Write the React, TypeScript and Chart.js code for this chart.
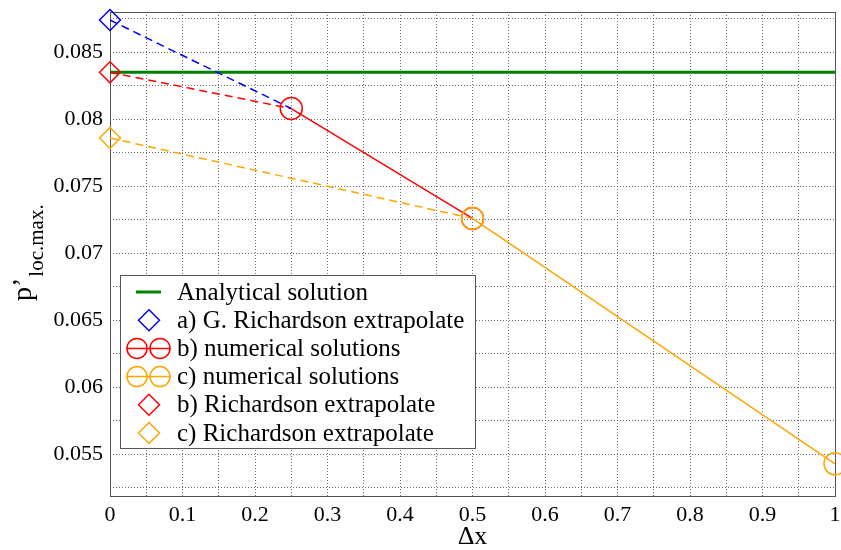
import React, { useEffect, useRef } from "react";
import { Chart, registerables } from "chart.js";

Chart.register(...registerables);

// ---- data ----
const xTickLabels = ["0", "0.1", "0.2", "0.3", "0.4", "0.5", "0.6", "0.7", "0.8", "0.9", "1"];
const yTickLabels = ["0.055", "0.06", "0.065", "0.07", "0.075", "0.08", "0.085"];

const analyticalDx = [0, 1];
const analyticalP = [0.0835, 0.0835];

const richADx = [0, 0.25];
const richAP = [0.0874, 0.0808];

const numBDx = [0.25, 0.5];
const numBP = [0.0808, 0.0726];

const numCDx = [0.5, 1];
const numCP = [0.0726, 0.0543];

const richBDx = [0, 0.25];
const richBP = [0.0835, 0.0808];

const richCDx = [0, 0.5];
const richCP = [0.0786, 0.0726];

const seriesLabels = [
  "Analytical solution",
  "a) G. Richardson extrapolate",
  "b) numerical solutions",
  "c) numerical solutions",
  "b) Richardson extrapolate",
  "c) Richardson extrapolate",
];

const xTitle = "\u0394x";
const yTitleMain = "p\u2019";
const yTitleSub = "loc.max.";

const SERIF = '"Liberation Serif", "DejaVu Serif", serif';
const GREEN = "#008000";
const BLUE = "#0000ff";
const RED = "#ff0000";
const ORANGE = "#ffa500";

const pts = (xs: number[], ys: number[]) => xs.map((x, i) => ({ x, y: ys[i] }));

function drawDiamond(ctx: CanvasRenderingContext2D, x: number, y: number, r: number, color: string) {
  ctx.beginPath();
  ctx.moveTo(x - r, y);
  ctx.lineTo(x, y - r);
  ctx.lineTo(x + r, y);
  ctx.lineTo(x, y + r);
  ctx.closePath();
  ctx.strokeStyle = color;
  ctx.lineWidth = 1.5;
  ctx.stroke();
}

function drawCircles(ctx: CanvasRenderingContext2D, x: number, y: number, color: string) {
  ctx.strokeStyle = color;
  ctx.lineWidth = 1.5;
  ctx.beginPath();
  ctx.moveTo(x - 22, y);
  ctx.lineTo(x + 22, y);
  ctx.stroke();
  [x - 11.5, x + 11.5].forEach((cx) => {
    ctx.beginPath();
    ctx.arc(cx, y, 10, 0, Math.PI * 2);
    ctx.stroke();
  });
}

const legendKinds: Array<[string, string]> = [
  ["line", GREEN],
  ["diamond", BLUE],
  ["circles", RED],
  ["circles", ORANGE],
  ["diamond", RED],
  ["diamond", ORANGE],
];

const framePlugin = {
  id: "frame",
  beforeDatasetsDraw(chart: any) {
    const { ctx, chartArea } = chart;
    ctx.save();
    ctx.strokeStyle = "#555";
    ctx.lineWidth = 1;
    ctx.strokeRect(
      Math.round(chartArea.left) + 0.5,
      Math.round(chartArea.top) + 0.5,
      Math.round(chartArea.right - chartArea.left),
      Math.round(chartArea.bottom - chartArea.top)
    );
    ctx.restore();
  },
};

const annotPlugin = {
  id: "annot",
  afterDraw(chart: any) {
    const { ctx, chartArea } = chart;
    ctx.save();
    // legend
    const bx = 120.5, by = 275.5, bw = 355, bh = 173;
    ctx.fillStyle = "#fff";
    ctx.fillRect(bx, by, bw, bh);
    ctx.strokeStyle = "#555";
    ctx.lineWidth = 1;
    ctx.strokeRect(bx, by, bw, bh);
    ctx.font = `25px ${SERIF}`;
    ctx.textBaseline = "middle";
    ctx.textAlign = "left";
    seriesLabels.forEach((label, i) => {
      const cy = 292 + i * 28.2;
      const [kind, color] = legendKinds[i];
      if (kind === "line") {
        ctx.strokeStyle = color;
        ctx.lineWidth = 3;
        ctx.beginPath();
        ctx.moveTo(136, cy);
        ctx.lineTo(161, cy);
        ctx.stroke();
      } else if (kind === "diamond") {
        drawDiamond(ctx, 149, cy, 10.5, color);
      } else {
        drawCircles(ctx, 148.5, cy, color);
      }
      ctx.fillStyle = "#000";
      ctx.fillText(label, 177, cy + 1);
    });
    // x title
    ctx.font = `26px ${SERIF}`;
    ctx.textAlign = "center";
    ctx.textBaseline = "alphabetic";
    ctx.fillStyle = "#000";
    ctx.fillText(xTitle, (chartArea.left + chartArea.right) / 2, 544);
    // y title (rotated)
    ctx.rotate(-Math.PI / 2);
    ctx.textAlign = "left";
    ctx.font = `28px ${SERIF}`;
    const startY = 301;
    ctx.fillText(yTitleMain, -startY, 31);
    const w = ctx.measureText(yTitleMain).width;
    ctx.font = `21px ${SERIF}`;
    ctx.fillText(yTitleSub, -startY + w + 1, 43);
    ctx.restore();
  },
};

function labelFor(value: number, labels: string[]) {
  const found = labels.find((l) => Math.abs(Number(l) - value) < 1e-7);
  return found ?? "";
}

const noPad = (s: any) => {
  s.paddingLeft = 0;
  s.paddingRight = 0;
  s.paddingTop = 0;
  s.paddingBottom = 0;
};

export default function App() {
  const ref = useRef<HTMLCanvasElement | null>(null);
  useEffect(() => {
    if (!ref.current) return;
    const dashed = [8, 5];
    const chart = new Chart(ref.current, {
      type: "scatter",
      data: {
        datasets: [
          {
            label: seriesLabels[0],
            data: pts(analyticalDx, analyticalP),
            showLine: true,
            borderColor: GREEN,
            borderWidth: 3,
            pointRadius: 0,
            order: 6,
          },
          {
            label: seriesLabels[1],
            data: pts(richADx, richAP),
            showLine: true,
            borderColor: BLUE,
            borderWidth: 1.5,
            borderDash: dashed,
            pointStyle: "rectRot",
            pointRadius: [10.5, 0],
            pointBorderColor: BLUE,
            pointBorderWidth: 1.5,
            pointBackgroundColor: "transparent",
            order: 1,
          },
          {
            label: seriesLabels[2],
            data: pts(numBDx, numBP),
            showLine: true,
            borderColor: RED,
            borderWidth: 1.5,
            pointStyle: "circle",
            pointRadius: 11,
            pointBorderColor: RED,
            pointBorderWidth: 1.5,
            pointBackgroundColor: "transparent",
            order: 4,
          },
          {
            label: seriesLabels[3],
            data: pts(numCDx, numCP),
            showLine: true,
            borderColor: ORANGE,
            borderWidth: 1.5,
            pointStyle: "circle",
            pointRadius: 11,
            pointBorderColor: ORANGE,
            pointBorderWidth: 1.5,
            pointBackgroundColor: "transparent",
            order: 3,
          },
          {
            label: seriesLabels[4],
            data: pts(richBDx, richBP),
            showLine: true,
            borderColor: RED,
            borderWidth: 1.5,
            borderDash: dashed,
            pointStyle: "rectRot",
            pointRadius: [10.5, 0],
            pointBorderColor: RED,
            pointBorderWidth: 1.5,
            pointBackgroundColor: "transparent",
            order: 2,
          },
          {
            label: seriesLabels[5],
            data: pts(richCDx, richCP),
            showLine: true,
            borderColor: ORANGE,
            borderWidth: 1.5,
            borderDash: dashed,
            pointStyle: "rectRot",
            pointRadius: [10.5, 0],
            pointBorderColor: ORANGE,
            pointBorderWidth: 1.5,
            pointBackgroundColor: "transparent",
            order: 2,
          },
        ],
      },
      options: {
        animation: false,
        responsive: false,
        maintainAspectRatio: false,
        clip: false as any,
        layout: { autoPadding: false, padding: { top: 12, right: 6, left: 0, bottom: 0 } },
        plugins: { legend: { display: false }, tooltip: { enabled: false }, title: { display: false } },
        elements: { line: { tension: 0 } },
        scales: {
          x: {
            type: "linear",
            min: 0,
            max: 1,
            afterFit: (s: any) => {
              s.height = 54;
              noPad(s);
            },
            ticks: {
              stepSize: 0.05,
              includeBounds: false,
              autoSkip: false,
              maxRotation: 0,
              padding: 6,
              color: "#000",
              font: { family: SERIF, size: 22 },
              callback: (v: any) => labelFor(Number(v), xTickLabels),
            },
            grid: { color: "rgba(60,60,60,0.75)", lineWidth: 1, drawTicks: false },
            border: { display: false, dash: [1, 2] },
          },
          y: {
            type: "linear",
            min: 0.0519,
            max: 0.088,
            afterFit: (s: any) => {
              s.width = 110;
              noPad(s);
            },
            ticks: {
              stepSize: 0.0025,
              includeBounds: false,
              autoSkip: false,
              padding: 7,
              color: "#000",
              font: { family: SERIF, size: 22 },
              callback: (v: any) => labelFor(Number(v), yTickLabels),
            },
            grid: { color: "rgba(60,60,60,0.75)", lineWidth: 1, drawTicks: false },
            border: { display: false, dash: [1, 2] },
          },
        },
      },
      plugins: [framePlugin, annotPlugin],
    } as any);
    return () => chart.destroy();
  }, []);
  return (
    <div style={{ position: "fixed", left: 0, top: 0, width: 841, height: 550, background: "#fff" }}>
      <canvas ref={ref} width={841} height={550} style={{ display: "block" }} />
    </div>
  );
}
